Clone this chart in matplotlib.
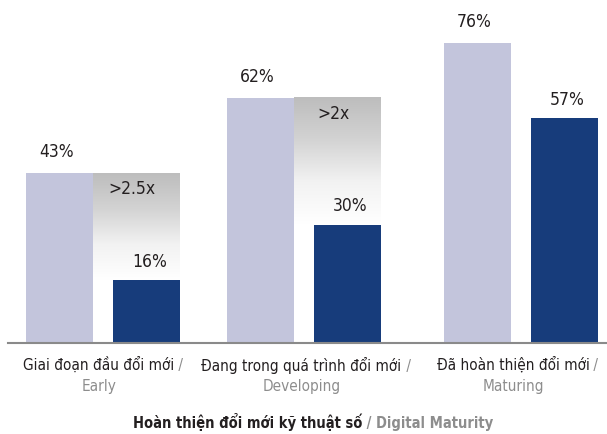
import numpy as np
import matplotlib.pyplot as plt
from matplotlib.colors import LinearSegmentedColormap
from matplotlib.offsetbox import TextArea, HPacker, AnnotationBbox

plt.rcParams['font.family'] = ['DejaVu Sans']
plt.rcParams['font.stretch'] = 'condensed'

stages_vi = ['Giai đoạn đầu đổi mới', 'Đang trong quá trình đổi mới', 'Đã hoàn thiện đổi mới']
stages_en = ['Early', 'Developing', 'Maturing']
light_vals = [43, 62, 76]
dark_vals = [16, 30, 57]
gap_labels = ['>2.5x', '>2x', None]

LIGHT = '#c3c5dc'
DARK = '#173c7b'
INK = '#231f20'
GREY = '#8d8d8d'

W, H = 607, 434
fig = plt.figure(figsize=(W / 100, H / 100), dpi=100)
ax = fig.add_axes([8 / W, 91 / H, 599 / W, 316 / H])

# layout in pixel-like units along x
centers = [103, 304, 520.5]
bar_w = 67
half = 43.5

shade = LinearSegmentedColormap.from_list('shade', ['#bdbdbd', '#d3d3d3', '#f2f2f2', '#ffffff'])
grad = np.linspace(0, 1, 256).reshape(-1, 1)

for c, lv, dv, g in zip(centers, light_vals, dark_vals, gap_labels):
    xl, xd = c - half, c + half
    ax.bar(xl, lv, width=bar_w, color=LIGHT, zorder=2)
    ax.bar(xd, dv, width=bar_w, color=DARK, zorder=2)
    ax.annotate(f'{lv}%', (xl, lv), xytext=(-2, 15), textcoords='offset points',
                ha='center', va='center', fontsize=12.5, color=INK)
    ax.annotate(f'{dv}%', (xd, dv), xytext=(2, 13), textcoords='offset points',
                ha='center', va='center', fontsize=12.5, color=INK)
    if g:
        x0, x1 = c - half + bar_w / 2, xd + bar_w / 2
        ax.imshow(grad, extent=(x0, x1, dv, lv), aspect='auto', cmap=shade,
                  vmin=0, vmax=1, zorder=1)
        ax.annotate(g, ((x0 + x1) / 2, lv), xytext=(-3, -11.5), textcoords='offset points',
                    ha='center', va='center', fontsize=12.5, color=INK)

ax.set_xlim(8, 607)
ax.set_ylim(0, 80)
for s in ['top', 'right', 'left']:
    ax.spines[s].set_visible(False)
ax.spines['bottom'].set_color('#8a8a8a')
ax.spines['bottom'].set_linewidth(1.5)
ax.set_xticks([])
ax.set_yticks([])

# two-tone category labels
label_x = [103, 306, 517.5]
for c, vi, en in zip(label_x, stages_vi, stages_en):
    row = HPacker(children=[TextArea(vi, textprops=dict(color=INK, size=11)),
                            TextArea(' /', textprops=dict(color=GREY, size=11))],
                  pad=0, sep=0, align='baseline')
    ab = AnnotationBbox(row, (c, H - 365), xycoords=('data', 'figure pixels'),
                        frameon=False, box_alignment=(0.5, 0.5), pad=0)
    ax.add_artist(ab)
    ax.annotate(en, (c - 4, H - 387), xycoords=('data', 'figure pixels'),
                ha='center', va='center', fontsize=11, color=GREY, annotation_clip=False)

title = HPacker(children=[TextArea('Hoàn thiện đổi mới kỹ thuật số',
                                   textprops=dict(color=INK, size=10.5, weight='bold')),
                          TextArea(' / Digital Maturity',
                                   textprops=dict(color=GREY, size=10.5, weight='bold'))],
                pad=0, sep=0, align='baseline')
fig.add_artist(AnnotationBbox(title, (313, H - 422), xycoords='figure pixels',
                              frameon=False, box_alignment=(0.5, 0.5), pad=0))

fig.savefig('out.png', dpi=100)
